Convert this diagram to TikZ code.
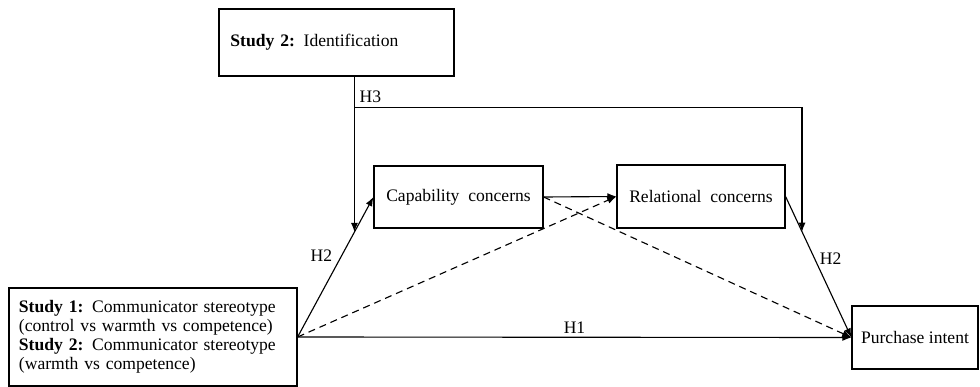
\documentclass[tikz,border=0pt]{standalone}
\usepackage{fontspec}
\setmainfont{Liberation Serif}
\usepackage{tikz}
\usetikzlibrary{calc}
\usetikzlibrary{arrows.meta}
\usetikzlibrary{positioning}

\begin{document}
\begin{tikzpicture}[x=0.025cm,y=-0.025cm,font=\fontsize{12.5}{13.5}\selectfont,
                box/.style={draw,line width=0.8pt,inner sep=0pt},
                arr/.style={line width=0.8pt,-{Latex[length=6.5pt,width=5pt]}},
                dsh/.style={arr,dash pattern=on 5pt off 3.5pt}]
                \useasboundingbox (0,0) rectangle (980,387);

                \node[box,minimum width=5.875cm,minimum height=1.675cm,text width=5.3cm,align=left] (id) at (336.5,42.5) {\textbf{Study 2:} Identification};
                \node[box,minimum width=4.225cm,minimum height=1.55cm] (cap) at (458.5,197) {Capability\ \ concerns};
                \node[box,minimum width=4.2cm,minimum height=1.575cm] (rel) at (701,196.5) {Relational\ \ concerns};
                \node[box,minimum width=7.2cm,minimum height=2.45cm,text width=6.7cm,align=left] (st) at (153,337)
                    {\textbf{Study 1:} Communicator stereotype\\(control vs warmth vs competence)\\\textbf{Study 2:} Communicator stereotype\\(warmth vs competence)};
                \node[box,minimum width=3.15cm,minimum height=1.575cm] (pur) at (915,337.5) {Purchase intent};

                \coordinate (h2a) at ($(st.east)!0.75!(cap.west)$);
                \coordinate (h2b) at ($(rel.east)!0.25!(pur.west)$);
                \coordinate (h3) at ($(id.south -| h2a)+(0,31)$);

                \draw[arr] (st.east) -- node[pos=0.58,left=3pt] {H2} (cap.west);
                \draw[dsh] (st.east) -- (rel.west);
                \draw[arr] (st.east) -- node[above=-1pt] {H1} (pur.west);
                \draw[arr] (cap.east) -- (rel.west);
                \draw[dsh] (cap.east) -- (pur.west);
                \draw[arr] (rel.east) -- node[pos=0.44,right=0pt] {H2} (pur.west);

                \draw[arr] (id.south -| h2a) -- (h2a);
                \draw[arr] (h3) node[above right=0pt] {H3} -| (h2b);
            \end{tikzpicture}
\end{document}
